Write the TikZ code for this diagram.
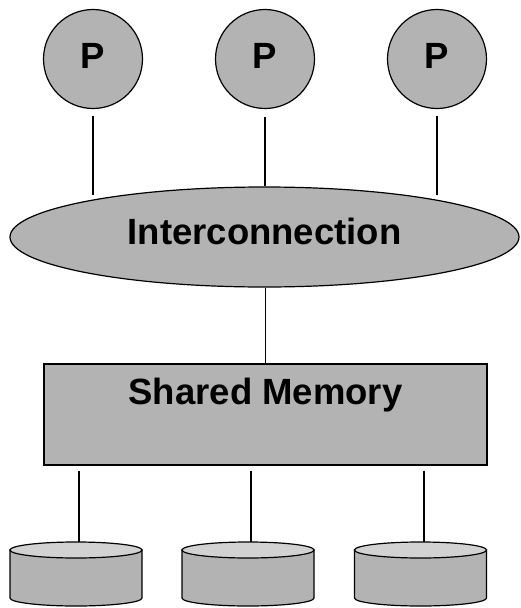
\documentclass[tikz,border=0pt]{standalone}
\usepackage{fontspec}
\setmainfont{Liberation Sans}
\usetikzlibrary{shapes.geometric}

\definecolor{partgray}{HTML}{B3B3B3}
\definecolor{capgray}{HTML}{D2D2D2}

\tikzset{
  part/.style={draw=black, line width=1.2pt, fill=partgray},
  proc/.style={part, circle, inner sep=0pt, minimum size=99pt, text depth=7pt},
  netbox/.style={part, ellipse, inner sep=0pt, minimum width=509pt, minimum height=100pt},
  membox/.style={part, rectangle, inner sep=0pt, minimum width=443pt, minimum height=101pt},
  lbl/.style={font=\fontsize{36.5}{40}\selectfont\bfseries, inner sep=0pt},
  wire/.style={draw=black, line width=1.5pt},
}

% one disk: body with lower rim, then the lighter top cap
\newcommand{\diskat}[1]{%
  \path[part] (#1-66,550) -- (#1-66,598) arc[start angle=180, end angle=0, x radius=66, y radius=8]
    -- (#1+66,550) -- cycle;
  \path[part, fill=capgray] (#1,550) ellipse[x radius=66, y radius=8];
}

\begin{document}
\begin{tikzpicture}[x=1pt, y=-1pt]
  \useasboundingbox (0,0) rectangle (520,608);

  % processors
  \node[proc, lbl] (p1) at (93,59) {P};
  \node[proc, lbl] (p2) at (265,59) {P};
  \node[proc, lbl] (p3) at (437,59) {P};

  % interconnection network
  \node[netbox] (net) at (264.5,237) {};
  \node[lbl] (nettext) at (264.5,231.5) {Interconnection};

  % shared memory
  \node[membox] (mem) at (265.5,414.5) {};
  \node[lbl] (memtext) at (265.5,395) {Shared Memory};

  % disks
  \diskat{76}
  \diskat{248}
  \diskat{420.5}
  \coordinate (d1) at (79,542);
  \coordinate (d2) at (251,542);
  \coordinate (d3) at (424,542);

  % processor links
  \draw[wire] ([yshift=-7pt]p1.south) -- ++(0,79);
  \draw[wire] ([yshift=-8pt]p2.south) -- (p2.south |- net.north);
  \draw[wire] ([yshift=-7pt]p3.south) -- ++(0,79);

  % network to memory
  \draw[wire] (mem.north) -- (mem.north |- net.south);

  % memory to disks
  \draw[wire] (mem.south -| d1) ++(0,5) -- (d1);
  \draw[wire] (mem.south -| d2) ++(0,5) -- (d2);
  \draw[wire] (mem.south -| d3) ++(0,5) -- (d3);
\end{tikzpicture}
\end{document}
